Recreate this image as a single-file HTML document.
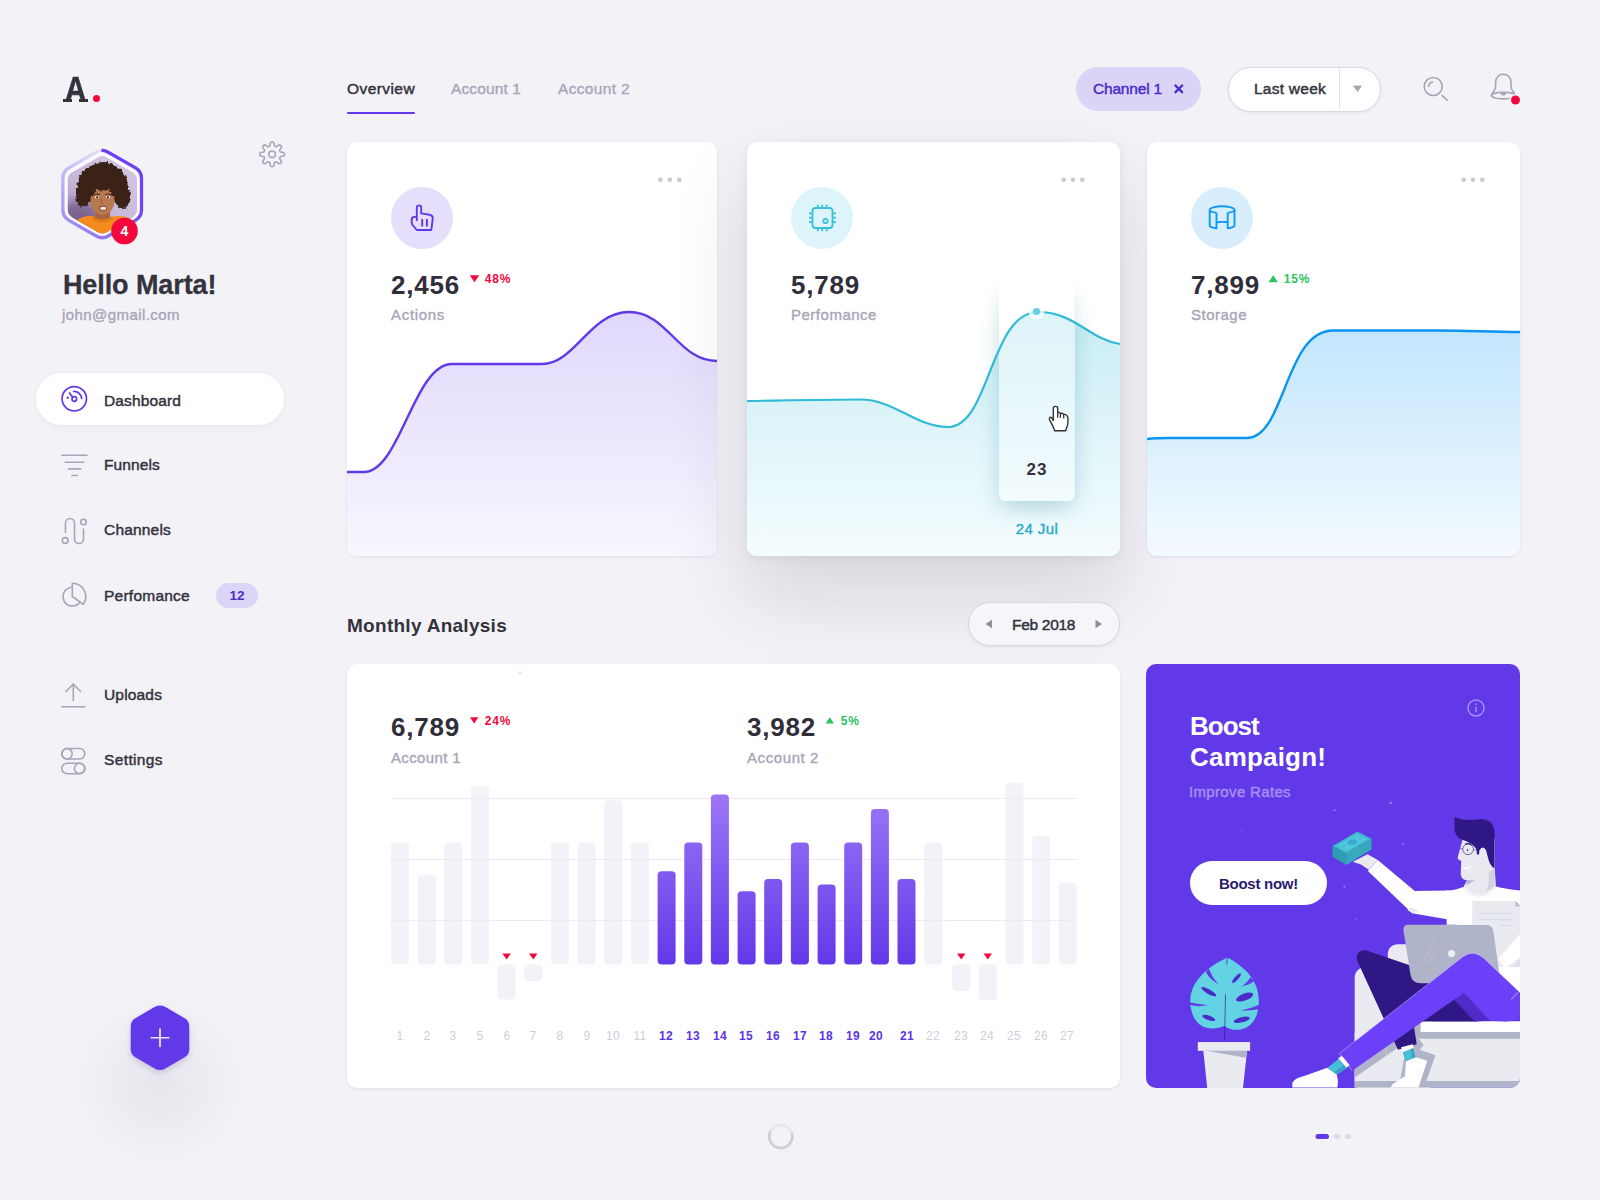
<!DOCTYPE html>
<html lang="en">
<head>
<meta charset="utf-8">
<title>Dashboard</title>
<style>
*{box-sizing:border-box;margin:0;padding:0}
html,body{width:1600px;height:1200px;overflow:hidden}
body{background:#f3f2f7;font-family:"Liberation Sans",sans-serif;color:#2f2e3a;position:relative}
.a{position:absolute}
.t{position:absolute;white-space:nowrap;line-height:20px;height:20px;font-size:16px;letter-spacing:0;-webkit-text-stroke:.45px currentColor}
.dk{color:#33323d}
.gr{color:#a7a5b7;-webkit-text-stroke:.35px #a7a5b7}
.b{font-weight:700;-webkit-text-stroke:0}
.num{position:absolute;white-space:nowrap;font-weight:700;font-size:26px;line-height:30px;height:30px;letter-spacing:.8px;color:#2f2e3a}
.pct{position:absolute;white-space:nowrap;font-weight:700;font-size:12px;line-height:14px;height:14px;letter-spacing:.85px;margin-left:.7px}
.red{color:#f4083b}
.grn{color:#2dc25f}
.card{position:absolute;background:#fff;border-radius:10px;box-shadow:0 1px 3px rgba(60,50,110,.10);overflow:hidden}
.ic{position:absolute;width:62px;height:62px;border-radius:50%}
.dots{position:absolute;width:24px;height:6px}
.dots i{position:absolute;top:0;width:5px;height:5px;border-radius:50%;background:#c9c8d2}
svg{position:absolute;overflow:visible}
.day{position:absolute;top:364px;width:30px;margin-left:-15px;text-align:center;font-size:12px;line-height:16px;color:#cfced9;letter-spacing:.3px}
.day.on{color:#5a35e0;font-weight:700}
</style>
</head>
<body>

<!-- ============ SIDEBAR ============ -->
<div id="sidebar">
<div class="a" id="logo" style="left:65px;top:69px;font-weight:700;font-size:35px;line-height:40px;color:#33323d;transform:scaleX(.84);transform-origin:0 0;-webkit-text-stroke:.7px #33323d">A</div>
<div class="a" style="left:63px;top:99px;width:9px;height:3px;background:#33323d"></div>
<div class="a" style="left:79px;top:99px;width:9px;height:3px;background:#33323d"></div>
<div class="a" style="left:92.800px;top:95px;width:7.200px;height:7.200px;border-radius:50%;background:#f4083b"></div>

<div class="a" style="left:0;top:0;width:320px;height:300px;background:conic-gradient(from 0deg at 102.200px 194.100px,#6a3df5 0deg,#6f45f4 110deg,#8d72f3 170deg,#a792f5 240deg,#c9bff6 310deg,#e6e2f8 358deg,#6a3df5 360deg);clip-path:path('M95.45,150.70 A13.5,13.5 0 0 1 108.95,150.70 L136.41,166.55 A13.5,13.5 0 0 1 143.16,178.24 L143.16,209.96 A13.5,13.5 0 0 1 136.41,221.65 L108.95,237.50 A13.5,13.5 0 0 1 95.45,237.50 L67.99,221.65 A13.5,13.5 0 0 1 61.24,209.96 L61.24,178.24 A13.5,13.5 0 0 1 67.99,166.55 Z')"></div>
<svg id="avatar" style="left:0;top:0" width="320" height="300" viewBox="0 0 320 300">
<defs>
<clipPath id="cpa"><path d="M97.90,157.40 A9,9 0 0 1 106.90,157.40 L132.54,172.20 A9,9 0 0 1 137.04,180.00 L137.04,209.60 A9,9 0 0 1 132.54,217.40 L106.90,232.20 A9,9 0 0 1 97.90,232.20 L72.26,217.40 A9,9 0 0 1 67.76,209.60 L67.76,180.00 A9,9 0 0 1 72.26,172.20 Z"/></clipPath>
<linearGradient id="gph" x1="135" y1="160" x2="70" y2="225" gradientUnits="userSpaceOnUse"><stop offset="0" stop-color="#d3c8e2"/><stop offset=".6" stop-color="#c6b8d9"/><stop offset="1" stop-color="#b09cc6"/></linearGradient>
<filter id="fh" x="-20%" y="-20%" width="140%" height="140%"><feTurbulence type="fractalNoise" baseFrequency=".35" numOctaves="2" seed="4" result="n"/><feDisplacementMap in="SourceGraphic" in2="n" scale="5" xChannelSelector="R" yChannelSelector="G"/><feGaussianBlur stdDeviation=".35"/></filter><filter id="fsoft" x="-50%" y="-50%" width="200%" height="200%"><feGaussianBlur stdDeviation="6"/></filter>
</defs>
<path d="M96.95,153.63 A10.5,10.5 0 0 1 107.45,153.63 L134.62,169.32 A10.5,10.5 0 0 1 139.87,178.41 L139.87,209.79 A10.5,10.5 0 0 1 134.62,218.88 L107.45,234.57 A10.5,10.5 0 0 1 96.95,234.57 L69.78,218.88 A10.5,10.5 0 0 1 64.53,209.79 L64.53,178.41 A10.5,10.5 0 0 1 69.78,169.32 Z" fill="#fbfaff"/>
<g clip-path="url(#cpa)">
<rect x="60" y="150" width="90" height="90" fill="url(#gph)"/>
<ellipse cx="80" cy="216" rx="22" ry="16" fill="#4a2c5e" opacity=".55" filter="url(#fsoft)"/>
<g filter="url(#fh)" fill="#3a2218">
<ellipse cx="102.500" cy="184" rx="25" ry="20.500"/>
<ellipse cx="83" cy="195" rx="7.500" ry="12"/>
<ellipse cx="122.500" cy="196" rx="7.500" ry="13"/>
<ellipse cx="104" cy="166" rx="10" ry="4"/>
</g>
<path d="M95,210 L95,219 Q102,224 110,219 L110,210Z" fill="#a5653f"/>
<path d="M70,226 Q82,214 93,216 Q102,223 112,216.500 Q125,214 140,223 L140,242 L64,242Z" fill="#f58a1e"/>
<path d="M93,216 Q102,223 112,216.500 L113,219 Q102,226 92,218.500Z" fill="#e07a14"/>
<ellipse cx="102.500" cy="200.500" rx="12" ry="14.500" fill="#b87850"/>
<g filter="url(#fh)" fill="#3a2218"><ellipse cx="101" cy="184.500" rx="14" ry="6"/><ellipse cx="91" cy="190" rx="4" ry="6"/><ellipse cx="114" cy="190" rx="4" ry="6"/></g>
<ellipse cx="97" cy="197.300" rx="2.300" ry="1.300" fill="#f1e6e0"/><ellipse cx="108" cy="197.300" rx="2.300" ry="1.300" fill="#f1e6e0"/>
<circle cx="97.200" cy="197.300" r="1.100" fill="#2a1a14"/><circle cx="107.800" cy="197.300" r="1.100" fill="#2a1a14"/>
<path d="M94,194.800 q3,-1.600 5.800,-.3 M105.200,194.500 q3,-1.300 5.800,.3" stroke="#3a2218" stroke-width="1" fill="none"/>
<path d="M101.200,199 q-1.200,4 1.600,4.800" stroke="#8f5734" stroke-width=".9" fill="none"/>
<ellipse cx="103" cy="208.300" rx="4" ry="2.500" fill="#8a4a38"/>
<ellipse cx="103.200" cy="208.300" rx="3" ry="1.500" fill="#f4ece8"/>
</g>
<circle cx="124.500" cy="231" r="13.300" fill="#f4083b"/>
<path d="M272.10,142.00 L272.58,142.03 L273.06,142.14 L273.51,142.42 L273.88,143.05 L274.12,144.15 L274.27,145.25 L274.47,145.89 L274.73,146.21 L275.01,146.40 L275.31,146.54 L275.63,146.65 L275.96,146.72 L276.37,146.68 L276.96,146.36 L277.85,145.69 L278.80,145.08 L279.51,144.90 L280.02,145.03 L280.44,145.28 L280.80,145.60 L281.12,145.96 L281.37,146.38 L281.50,146.89 L281.32,147.60 L280.71,148.55 L280.04,149.44 L279.72,150.03 L279.68,150.44 L279.75,150.77 L279.86,151.09 L280.00,151.39 L280.19,151.67 L280.51,151.93 L281.15,152.13 L282.25,152.28 L283.35,152.52 L283.98,152.89 L284.26,153.34 L284.37,153.82 L284.40,154.30 L284.37,154.78 L284.26,155.26 L283.98,155.71 L283.35,156.08 L282.25,156.32 L281.15,156.47 L280.51,156.67 L280.19,156.93 L280.00,157.21 L279.86,157.51 L279.75,157.83 L279.68,158.16 L279.72,158.57 L280.04,159.16 L280.71,160.05 L281.32,161.00 L281.50,161.71 L281.37,162.22 L281.12,162.64 L280.80,163.00 L280.44,163.32 L280.02,163.57 L279.51,163.70 L278.80,163.52 L277.85,162.91 L276.96,162.24 L276.37,161.92 L275.96,161.88 L275.63,161.95 L275.31,162.06 L275.01,162.20 L274.73,162.39 L274.47,162.71 L274.27,163.35 L274.12,164.45 L273.88,165.55 L273.51,166.18 L273.06,166.46 L272.58,166.57 L272.10,166.60 L271.62,166.57 L271.14,166.46 L270.69,166.18 L270.32,165.55 L270.08,164.45 L269.93,163.35 L269.73,162.71 L269.47,162.39 L269.19,162.20 L268.89,162.06 L268.57,161.95 L268.24,161.88 L267.83,161.92 L267.24,162.24 L266.35,162.91 L265.40,163.52 L264.69,163.70 L264.18,163.57 L263.76,163.32 L263.40,163.00 L263.08,162.64 L262.83,162.22 L262.70,161.71 L262.88,161.00 L263.49,160.05 L264.16,159.16 L264.48,158.57 L264.52,158.16 L264.45,157.83 L264.34,157.51 L264.20,157.21 L264.01,156.93 L263.69,156.67 L263.05,156.47 L261.95,156.32 L260.85,156.08 L260.22,155.71 L259.94,155.26 L259.83,154.78 L259.80,154.30 L259.83,153.82 L259.94,153.34 L260.22,152.89 L260.85,152.52 L261.95,152.28 L263.05,152.13 L263.69,151.93 L264.01,151.67 L264.20,151.39 L264.34,151.09 L264.45,150.77 L264.52,150.44 L264.48,150.03 L264.16,149.44 L263.49,148.55 L262.88,147.60 L262.70,146.89 L262.83,146.38 L263.08,145.96 L263.40,145.60 L263.76,145.28 L264.18,145.03 L264.69,144.90 L265.40,145.08 L266.35,145.69 L267.24,146.36 L267.83,146.68 L268.24,146.72 L268.57,146.65 L268.89,146.54 L269.19,146.40 L269.47,146.21 L269.73,145.89 L269.93,145.25 L270.08,144.15 L270.32,143.05 L270.69,142.42 L271.14,142.14 L271.62,142.03Z" fill="none" stroke="#a7a5b6" stroke-width="1.600" stroke-linejoin="round"/>
<circle cx="272.100" cy="154.300" r="3.300" fill="none" stroke="#a7a5b6" stroke-width="1.600"/>
</svg>
<div class="a b" style="left:114.500px;top:222px;width:20px;text-align:center;font-weight:700;font-size:14px;line-height:18px;color:#fff">4</div>
<div class="t b dk" style="left:62.900px;top:269px;font-size:27px;line-height:32px;height:32px;letter-spacing:-.08px;-webkit-text-stroke:.3px #33323d">Hello Marta!</div>
<div class="t gr" style="left:62px;top:305px;font-size:15px;letter-spacing:0.43px">john@gmail.com</div>

<div class="a" style="left:36px;top:373px;width:248px;height:52px;border-radius:26px;background:#fff;box-shadow:0 2px 6px rgba(60,50,110,.06)"></div>
<svg id="sideicons" style="left:0;top:0" width="320" height="1200" viewBox="0 0 320 1200">
<g fill="none" stroke="#6239e8" stroke-width="1.700" stroke-linecap="round">
<circle cx="74.300" cy="398.800" r="12.200"/>
<circle cx="74.300" cy="399" r="2.300"/>
<path d="M69.500,393 L72.700,397.300 M73.500,391.500 A7.600,7.600 0 0 1 81.700,398.300"/>
<circle cx="67.600" cy="397.800" r=".7" fill="#6239e8" stroke-width="1"/>
</g>
<g fill="none" stroke="#a7a5b6" stroke-width="1.600" stroke-linecap="round" stroke-linejoin="round">
<path d="M61.800,455.300 H87 M65.300,462.200 H83.800 M68.500,468.900 H80.600 M71.800,475.500 H77.300"/>
<path d="M65.500,532.500 V523 a4.500,4.500 0 0 1 9,0 V539 a4.500,4.500 0 0 0 9,0 V529"/>
<circle cx="83.500" cy="522" r="2.800"/><circle cx="65.200" cy="540.500" r="2.900"/>
<path d="M72,587.200 A9.400,9.400 0 1 0 80,602.200"/>
<path d="M72.300,583.200 V596.500 L83.300,604.300 A13.400,13.400 0 0 0 72.300,583.200Z"/>
<path d="M73.300,700.500 V684 M66,691.500 L73.300,684 L80.600,691.500 M61.700,706.700 H85"/>
<rect x="61.800" y="748.500" width="23" height="10.500" rx="5.250"/><circle cx="67" cy="753.750" r="5.200"/>
<rect x="61.800" y="763.200" width="23" height="10.500" rx="5.250"/><circle cx="79.600" cy="768.450" r="5.200"/>
</g>
</svg>
<div class="t dk" style="left:104px;top:391px;font-size:15.5px;letter-spacing:0.13px">Dashboard</div>
<div class="t dk" style="left:104px;top:455px;font-size:15.5px;letter-spacing:0.12px">Funnels</div>
<div class="t dk" style="left:104px;top:520px;font-size:15.5px;letter-spacing:0.19px">Channels</div>
<div class="t dk" style="left:104px;top:586px;font-size:15.5px;letter-spacing:0.24px">Perfomance</div>
<div class="a" style="left:216px;top:583px;width:42px;height:25px;border-radius:13px;background:#dcd5f8"></div>
<div class="t b" style="left:229.500px;top:586px;font-size:13.500px;color:#4a2dc4;letter-spacing:0">12</div>
<div class="t dk" style="left:104px;top:685px;font-size:15.5px;letter-spacing:0.17px">Uploads</div>
<div class="t dk" style="left:104px;top:750px;font-size:15.5px;letter-spacing:0.37px">Settings</div>
<div class="a" style="left:72px;top:994px;width:176px;height:176px;border-radius:50%;background:radial-gradient(closest-side,rgba(60,55,85,.06),rgba(60,55,85,.035) 50%,rgba(60,55,85,0) 100%)"></div>
<svg id="hexbtn" style="left:100px;top:980px" width="120" height="120" viewBox="100 980 120 120">
<defs><filter id="fb" x="-30%" y="-30%" width="160%" height="160%"><feGaussianBlur stdDeviation="3"/></filter></defs>
<path d="M155.00,1006.84 A10,10 0 0 1 165.00,1006.84 L184.27,1017.96 A10,10 0 0 1 189.27,1026.62 L189.27,1048.88 A10,10 0 0 1 184.27,1057.54 L165.00,1068.66 A10,10 0 0 1 155.00,1068.66 L135.73,1057.54 A10,10 0 0 1 130.73,1048.88 L130.73,1026.62 A10,10 0 0 1 135.73,1017.96 Z" fill="#3a2a80" opacity=".18" transform="translate(0,3)" filter="url(#fb)"/>
<path d="M155.00,1006.84 A10,10 0 0 1 165.00,1006.84 L184.27,1017.96 A10,10 0 0 1 189.27,1026.62 L189.27,1048.88 A10,10 0 0 1 184.27,1057.54 L165.00,1068.66 A10,10 0 0 1 155.00,1068.66 L135.73,1057.54 A10,10 0 0 1 130.73,1048.88 L130.73,1026.62 A10,10 0 0 1 135.73,1017.96 Z" fill="#6239e8"/>
<path d="M151.300,1037.750 H168.700 M160,1029.100 V1046.400" stroke="#efeaff" stroke-width="1.700" stroke-linecap="round"/>
</svg>
</div>

<!-- ============ TOP BAR ============ -->
<div id="topbar">
<div class="t dk" style="left:347px;top:79px;font-size:15.5px;letter-spacing:0.43px">Overview</div>
<div class="a" style="left:347px;top:112px;width:68px;height:2px;background:#6239e8;border-radius:1px"></div>
<div class="t gr" style="left:451px;top:79px;font-size:15.5px;letter-spacing:0.12px">Account 1</div>
<div class="t gr" style="left:558px;top:79px;font-size:15.5px;letter-spacing:0.34px">Account 2</div>

<div class="a" style="left:1075.500px;top:66.500px;width:125.500px;height:44.500px;border-radius:22.500px;background:#dbd4f7"></div>
<div class="t" style="left:1093px;top:79px;color:#4a2dc4;font-size:15.5px;letter-spacing:-0.19px">Channel 1</div>
<div class="a" style="left:1227.500px;top:66.500px;width:153px;height:45px;border-radius:22.500px;background:#fff;border:1px solid #d9d8e0;box-shadow:0 1px 3px rgba(60,50,110,.08)"></div>
<div class="a" style="left:1339px;top:68px;width:1px;height:42px;background:#e4e3ea"></div>
<div class="t dk" style="left:1254px;top:79px;font-size:15.5px;letter-spacing:0.25px">Last week</div>
<svg id="topicons" style="left:1060px;top:50px" width="500" height="80" viewBox="1060 50 500 80">
<path d="M1174.800,84.900 l8,8 M1182.800,84.900 l-8,8" stroke="#4a2dc4" stroke-width="2.200" fill="none"/>
<path d="M1353.800,85.600 h7.400 q.8,0 .4,.7 l-3.700,5.300 q-.4,.6 -.8,0 l-3.700,-5.300 q-.4,-.7 .4,-.7z" fill="#a7a5b6"/>
<g fill="none" stroke="#a7a5b6" stroke-width="1.600" stroke-linecap="round">
<circle cx="1433.200" cy="86.500" r="9"/>
<path d="M1442,95.300 L1447.200,100.200 M1428.600,86.300 A5,5 0 0 1 1432.700,82"/>
<path d="M1491.500,95.500 C1492,92 1495.600,90.500 1495.600,86.500 V82 a7.700,7.700 0 0 1 15.400,0 V86.500 C1511,90.500 1514.600,92 1515,95.500"/>
<ellipse cx="1503.300" cy="95.600" rx="11.900" ry="3.300"/>
</g>
<path d="M1500.300,92.500 a3,3 0 0 0 6,0z" fill="#a7a5b6"/>
<circle cx="1515.500" cy="100" r="6" fill="#f3f2f7"/>
<circle cx="1515.500" cy="100" r="4.500" fill="#f4083b"/>
</svg>

</div>

<!-- ============ STAT CARDS ============ -->
<div class="card" id="card1" style="left:347px;top:142px;width:370px;height:414px">
<svg style="left:-347px;top:-142px" width="1600" height="1200" viewBox="0 0 1600 1200">
<defs><linearGradient id="g1" x1="0" y1="312" x2="0" y2="556" gradientUnits="userSpaceOnUse"><stop offset="0" stop-color="#e0d8fb"/><stop offset="1" stop-color="#f8f6fe"/></linearGradient></defs>
<path d="M347,472 L364,472 C400,472 414,364 452,364 L542,364 C575,364 590,312 629,312 C668,312 678,361 717,361 L717,560 L347,560Z" fill="url(#g1)"/>
<path d="M347,472 L364,472 C400,472 414,364 452,364 L542,364 C575,364 590,312 629,312 C668,312 678,361 717,361" fill="none" stroke="#6239e8" stroke-width="2.4"/>
<circle cx="422" cy="218" r="31" fill="#e6dffc"/>
<g fill="none" stroke="#6239e8" stroke-width="1.9" stroke-linecap="round" stroke-linejoin="round">
<path d="M416.8,220.3 V207.6 a2.2,2.2 0 0 1 4.4,0 V213.4 L429.5,214.7 Q433.2,215.4 432.7,219 L431.3,230 H416.8 L412.6,225 Q411.6,223.6 411.7,221.5 V219.5 Q411.8,216.9 414.2,216.9 H416.6"/>
<path d="M422.2,219.7 V225.7 M426.9,219.7 V225.7"/>
</g>
<g fill="#c9c8d2"><circle cx="660.4" cy="179.8" r="2.3"/><circle cx="669.8" cy="179.8" r="2.3"/><circle cx="679.2" cy="179.8" r="2.3"/></g>
<path d="M469.8,275.2 h9.4 l-4.7,7z" fill="#f4083b"/>
</svg>
<div class="num" style="left:44px;top:128px">2,456</div>
<div class="pct red" style="left:137px;top:130px">48%</div>
<div class="t gr" style="left:44px;top:163px;font-size:15px;letter-spacing:0.69px">Actions</div>
</div>
<div class="card" id="card2" style="left:747px;top:142px;width:373px;height:414px;box-shadow:0 40px 80px rgba(40,40,60,.14),0 2px 8px rgba(40,40,60,.07)">
<svg style="left:-747px;top:-142px" width="1600" height="1200" viewBox="0 0 1600 1200">
<defs><linearGradient id="g2" x1="0" y1="312" x2="0" y2="556" gradientUnits="userSpaceOnUse"><stop offset="0" stop-color="#c9edf5"/><stop offset="1" stop-color="#f5fcfe"/></linearGradient>
<linearGradient id="g2c" x1="0" y1="280" x2="0" y2="500" gradientUnits="userSpaceOnUse"><stop offset="0" stop-color="#fff" stop-opacity="0"/><stop offset=".15" stop-color="#fff" stop-opacity=".3"/><stop offset="1" stop-color="#fff" stop-opacity=".3"/></linearGradient>
<linearGradient id="g2m" x1="0" y1="270" x2="0" y2="330" gradientUnits="userSpaceOnUse"><stop offset="0" stop-color="#000"/><stop offset="1" stop-color="#fff"/></linearGradient>
<mask id="m2" maskUnits="userSpaceOnUse" x="900" y="200" width="300" height="400"><rect x="900" y="200" width="300" height="400" fill="url(#g2m)"/></mask>
<clipPath id="cpc"><path d="M999,270 H1074.500 V494 a7,7 0 0 1 -7,7 H1006 a7,7 0 0 1 -7,-7Z"/></clipPath><filter id="f2" x="-60%" y="-20%" width="220%" height="150%"><feGaussianBlur stdDeviation="11"/></filter>
</defs>
<path d="M747,401 C780,400.5 830,399.5 860,399.5 C895,399.5 915,427 948,427 C990,427 990,312 1038,312 C1075,312 1090,340 1120,344 L1120,560 L747,560Z" fill="url(#g2)"/>
<g mask="url(#m2)">
<rect x="1001" y="285" width="72" height="222" rx="8" fill="#1f7f98" opacity=".3" filter="url(#f2)"/>
<g clip-path="url(#cpc)"><rect x="990" y="260" width="95" height="250" fill="#fff"/><path d="M747,401 C780,400.5 830,399.5 860,399.5 C895,399.5 915,427 948,427 C990,427 990,312 1038,312 C1075,312 1090,340 1120,344 L1120,560 L747,560Z" fill="url(#g2)"/><rect x="990" y="260" width="95" height="250" fill="#fff" opacity=".38"/></g>
</g>
<path d="M747,401 C780,400.5 830,399.5 860,399.5 C895,399.5 915,427 948,427 C990,427 990,312 1038,312 C1075,312 1090,340 1120,344" fill="none" stroke="#2fbad6" stroke-width="2.2"/>
<circle cx="1036.500" cy="311.500" r="8" fill="#fff" opacity=".75"/>
<circle cx="1036.500" cy="311.500" r="3.600" fill="#62cfe6"/>
<circle cx="822" cy="218" r="31" fill="#ddf5fa"/>
<g fill="none" stroke="#3bbfdc" stroke-width="1.8">
<rect x="812.500" y="208" width="20" height="20" rx="3"/>
<circle cx="825.500" cy="221" r="2.200"/>
<path d="M817.700,204.700 V208 M822.200,204.700 V208 M826.700,204.700 V208 M817.700,228 V231.300 M822.200,228 V231.300 M826.700,228 V231.300 M809,213.300 H812.500 M809,217.700 H812.500 M809,222.200 H812.500 M832.500,213.300 H836 M832.500,217.700 H836 M832.500,222.200 H836"/>
</g>
<g fill="#c9c8d2"><circle cx="1063.700" cy="179.800" r="2.300"/><circle cx="1073" cy="179.800" r="2.300"/><circle cx="1082.400" cy="179.800" r="2.300"/></g>
<g transform="translate(1049,406)">
<path d="M4.300,14.600 V2.200 Q4.300,.4 6.500,.4 Q8.700,.4 8.700,2.200 V6.600 Q10.300,5.800 11.400,7.400 Q13.100,6.900 14.750,8.500 Q17,8 18.200,10 Q18.900,11 18.900,12.500 V17.500 Q18.500,20 17.500,22 L16.600,24.700 H5.600 L5.300,23.600 Q3.500,19 .7,14.200 Q-.2,12.300 .9,11.400 Q2.100,10.700 3,12.300 L4.300,14.600Z" fill="#fff" stroke="#2e2e2e" stroke-width="1.350" stroke-linejoin="round"/>
<path d="M8.700,6.600 V11.700 M11.400,7.400 V11.700 M14.750,8.500 V12.600" stroke="#2e2e2e" stroke-width="1.250" fill="none"/>
</g>
</svg>
<div class="num" style="left:44px;top:128px">5,789</div>
<div class="t gr" style="left:44px;top:163px;font-size:15px;letter-spacing:0.51px">Perfomance</div>
<div class="t b dk" style="left:269px;top:318px;width:42px;text-align:center;font-size:17px;letter-spacing:1px">23</div>
<div class="t" style="left:259px;top:377px;width:62px;text-align:center;font-size:15px;color:#2aa9c9;-webkit-text-stroke:.4px #2aa9c9;letter-spacing:.45px">24 Jul</div>
</div>
<div class="card" id="card3" style="left:1147px;top:142px;width:373px;height:414px">
<svg style="left:-1147px;top:-142px" width="1600" height="1200" viewBox="0 0 1600 1200">
<defs><linearGradient id="g3" x1="0" y1="331" x2="0" y2="556" gradientUnits="userSpaceOnUse"><stop offset="0" stop-color="#c2e6fd"/><stop offset="1" stop-color="#f4fafe"/></linearGradient></defs>
<path d="M1147,439 C1155,438 1160,438 1170,438 L1247,438 C1285,438 1285,330.500 1333,330.500 L1440,330.500 C1470,330.500 1490,332 1520,332 L1520,560 L1147,560Z" fill="url(#g3)"/>
<path d="M1147,439 C1155,438 1160,438 1170,438 L1247,438 C1285,438 1285,330.500 1333,330.500 L1440,330.500 C1470,330.500 1490,332 1520,332" fill="none" stroke="#0d93f2" stroke-width="2.400"/>
<circle cx="1222" cy="218" r="31" fill="#d8eefd"/>
<g fill="none" stroke="#0d99f5" stroke-width="1.900" stroke-linejoin="round">
<path d="M1209.700,209.800 A12.400,3.500 0 0 1 1234.500,209.800 M1209.700,209.800 A12.400,3.500 0 0 0 1216.500,212.900 M1234.500,209.800 A12.400,3.500 0 0 1 1227.700,212.900"/>
<path d="M1209.700,210 V225.800 Q1211,227.500 1216.500,228.300 V212.800 M1234.500,210 V225.800 Q1233,227.500 1227.700,228.300 V212.800 M1216.500,222.200 Q1222,221.500 1227.700,222.200"/>
</g>
<g fill="#c9c8d2"><circle cx="1463.700" cy="179.800" r="2.300"/><circle cx="1473" cy="179.800" r="2.300"/><circle cx="1482.400" cy="179.800" r="2.300"/></g>
<path d="M1268.500,282.200 h9.400 l-4.700,-7z" fill="#2dc25f"/>
</svg>
<div class="num" style="left:44px;top:128px">7,899</div>
<div class="pct grn" style="left:136px;top:130px">15%</div>
<div class="t gr" style="left:44px;top:163px;font-size:15px;letter-spacing:0.49px">Storage</div>
</div>

<!-- ============ MONTHLY ============ -->
<div class="t b dk" style="left:347px;top:614px;font-size:19px;line-height:24px;height:24px;letter-spacing:.28px">Monthly Analysis</div>
<div class="a" style="left:968px;top:602px;width:152px;height:44px;border-radius:22px;background:#f6f5f9;border:1px solid #d9d8e0;box-shadow:0 1px 3px rgba(60,50,110,.08)"></div>
<div class="t dk" style="left:1012px;top:615px;letter-spacing:-0.3px;font-size:15.5px">Feb 2018</div>
<svg style="left:980px;top:614px" width="130" height="20" viewBox="980 614 130 20"><path d="M992,619.800 v8.400 l-6.500,-4.200z M1095.500,619.800 v8.400 l6.500,-4.200z" fill="#8f8da0"/></svg>
<div class="card" id="month" style="left:347px;top:664px;width:773px;height:424px">
<svg style="left:-347px;top:-664px" width="1600" height="1200" viewBox="0 0 1600 1200">
<defs><linearGradient id="gb" x1="0" y1="795" x2="0" y2="965" gradientUnits="userSpaceOnUse"><stop offset="0" stop-color="#9c75f6"/><stop offset="1" stop-color="#6239e8"/></linearGradient></defs>
<g fill="#f3f2f8"><rect x="391.0" y="842.2" width="18" height="122.3" rx="4"/><rect x="417.7" y="875.3" width="18" height="89.2" rx="4"/><rect x="444.3" y="842.2" width="18" height="122.3" rx="4"/><rect x="471.0" y="786" width="18" height="178.5" rx="4"/><rect x="497.6" y="964.5" width="18" height="34.9" rx="4"/><rect x="524.3" y="964.5" width="18" height="16.5" rx="4"/><rect x="551.0" y="842.7" width="18" height="121.8" rx="4"/><rect x="577.6" y="842.7" width="18" height="121.8" rx="4"/><rect x="604.3" y="800.2" width="18" height="164.3" rx="4"/><rect x="630.9" y="842.7" width="18" height="121.8" rx="4"/><rect x="924.3" y="842.4" width="18" height="122.1" rx="4"/><rect x="952.2" y="964.5" width="18" height="26.4" rx="4"/><rect x="978.8" y="964.5" width="18" height="35.7" rx="4"/><rect x="1005.5" y="782.7" width="18" height="181.8" rx="4"/><rect x="1032.1" y="835.9" width="18" height="128.6" rx="4"/><rect x="1058.8" y="882.4" width="18" height="82.1" rx="4"/></g>
<path d="M391,798.500 H1077 M391,859.500 H1077 M391,920.500 H1077" stroke="#ecebf1" stroke-width="1" fill="none"/>
<g fill="url(#gb)"><rect x="657.6" y="871.3" width="18" height="93.2" rx="4"/><rect x="684.3" y="842.4" width="18" height="122.1" rx="4"/><rect x="710.9" y="794.6" width="18" height="169.9" rx="4"/><rect x="737.6" y="891.2" width="18" height="73.3" rx="4"/><rect x="764.2" y="879" width="18" height="85.5" rx="4"/><rect x="790.9" y="842.4" width="18" height="122.1" rx="4"/><rect x="817.6" y="884.6" width="18" height="79.9" rx="4"/><rect x="844.2" y="842.4" width="18" height="122.1" rx="4"/><rect x="870.9" y="809" width="18" height="155.5" rx="4"/><rect x="897.5" y="879" width="18" height="85.5" rx="4"/></g>
<g fill="#f4083b"><path d="M502.4,953.6 h8.400 l-4.200,6z"/><path d="M529.1,953.6 h8.400 l-4.200,6z"/><path d="M957.0,953.6 h8.400 l-4.200,6z"/><path d="M983.6,953.6 h8.400 l-4.200,6z"/></g>
<circle cx="520" cy="673" r="2" fill="#eceaf3"/>
<path d="M470,717.300 h8.400 l-4.200,6.200z" fill="#f4083b"/>
<path d="M825.600,723.500 h8.400 l-4.200,-6.200z" fill="#2dc25f"/>
</svg>
<div class="num" style="left:44px;top:48px">6,789</div>
<div class="pct red" style="left:137px;top:50px">24%</div>
<div class="t gr" style="left:44px;top:84px;font-size:15px;letter-spacing:0.36px">Account 1</div>
<div class="num" style="left:400px;top:48px">3,982</div>
<div class="pct grn" style="left:493px;top:50px">5%</div>
<div class="t gr" style="left:400px;top:84px;font-size:15px;letter-spacing:0.59px">Account 2</div>
<div class="day" style="left:53px">1</div><div class="day" style="left:80px">2</div><div class="day" style="left:106px">3</div><div class="day" style="left:133px">5</div><div class="day" style="left:160px">6</div><div class="day" style="left:186px">7</div><div class="day" style="left:213px">8</div><div class="day" style="left:240px">9</div><div class="day" style="left:266px">10</div><div class="day" style="left:293px">11</div><div class="day on" style="left:319px">12</div><div class="day on" style="left:346px">13</div><div class="day on" style="left:373px">14</div><div class="day on" style="left:399px">15</div><div class="day on" style="left:426px">16</div><div class="day on" style="left:453px">17</div><div class="day on" style="left:479px">18</div><div class="day on" style="left:506px">19</div><div class="day on" style="left:529px">20</div><div class="day on" style="left:560px">21</div><div class="day" style="left:586px">22</div><div class="day" style="left:614px">23</div><div class="day" style="left:640px">24</div><div class="day" style="left:667px">25</div><div class="day" style="left:694px">26</div><div class="day" style="left:720px">27</div>
</div>

<!-- ============ BOOST ============ -->
<div class="card" id="boost" style="left:1146px;top:664px;width:374px;height:424px;background:#6239e8;box-shadow:none">
<svg style="left:-1146px;top:-664px" width="1600" height="1200" viewBox="0 0 1600 1200">
<g fill="#9a82f4">
<circle cx="1390.800" cy="802.900" r="1.200"/><circle cx="1334.500" cy="810.300" r="1"/><circle cx="1241.800" cy="830.200" r=".8" opacity=".6"/><circle cx="1402.900" cy="844" r="1"/><circle cx="1344.400" cy="886.500" r="1"/><circle cx="1356.500" cy="918.800" r=".9" opacity=".7"/><circle cx="1373" cy="832" r=".7" opacity=".5"/>
</g>
<!-- plant -->
<g transform="translate(1170,940) scale(.12917)">
<path d="M445,135 Q300,200 220,300 Q140,400 160,520 Q190,690 340,685 Q390,680 420,665 Q470,700 540,695 Q680,670 688,480 Q690,350 600,250 Q530,180 445,135Z" fill="#63d2e3"/>
<g fill="#6239e8"><path d="M278,248 L302,222 Q330,300 378,342 Q310,310 278,248Z"/><path d="M150,482 Q220,500 294,504 Q220,520 156,504Z"/><path d="M622,288 L652,318 Q610,350 552,360 Q600,330 622,288Z"/><path d="M692,502 L686,536 Q620,548 546,546 Q630,530 692,502Z"/></g>
<g fill="#4a2bc9"><ellipse cx="515" cy="295" rx="48" ry="14" transform="rotate(-48 515 295)"/><ellipse cx="300" cy="400" rx="66" ry="18" transform="rotate(30 300 400)"/><ellipse cx="578" cy="442" rx="70" ry="27" transform="rotate(-20 578 442)"/><ellipse cx="300" cy="603" rx="52" ry="18" transform="rotate(20 300 603)"/><ellipse cx="555" cy="618" rx="64" ry="20" transform="rotate(-14 555 618)"/></g>
<path d="M430,420 L422,775 M446,135 L438,190" stroke="#2f1885" stroke-width="5" fill="none"/>
<path d="M258,858 H597 L565,1145 H288Z" fill="#e9ebf1"/><path d="M280,858 H597 L585,912Z" fill="#aeb3c6"/><rect x="215" y="790" width="405" height="68" fill="#e9ebf1"/>
</g>
<!-- lower body / chair -->
<g transform="translate(1280,920) scale(.15625)">
<rect x="478" y="300" width="500" height="800" rx="70" fill="#e9ebf1"/>
<rect x="690" y="155" width="260" height="300" rx="60" fill="#e9ebf1"/>
<path d="M1070,-40 H1536 V480 L1380,330 Z" fill="#fff"/>
<path d="M1230,-40 H1536 V300 H1230Z" fill="#e9ebf1"/>
<path d="M1536,90 L1395,250 L1440,310 L1536,240Z" fill="#fff"/>
<path d="M1536,250 L1480,300 L1536,300Z" fill="#dfe2ea"/>
<path d="M1280,2 H1490 M1405,35 H1490" stroke="#d3d6e0" stroke-width="5"/>
<path d="M478,720 H1536 V1072 H478Z" fill="#e9ebf1"/>
<path d="M880,648 H1536 V716 H880Z" fill="#fff"/>
<path d="M860,716 H1536 V760 H860Z" fill="#b0b4c8"/>
<path d="M478,1030 H1536 V1072 H478Z" fill="#b0b4c8"/>
<path d="M478,950 L900,655 L900,716 L478,1008Z" fill="#b0b4c8"/><path d="M870,740 L920,798 L895,830 L995,865 L935,1035 L880,1072 L760,1072 L800,850Z" fill="#b0b4c8"/>
<path d="M680,700 V1030" stroke="#dfe2ea" stroke-width="3"/>
<path d="M545,192 Q475,200 495,262 L755,830 L875,795 L852,650 L1260,650 L1110,470 L830,290Z" fill="#2f1885"/>
<path d="M1115,510 L1180,465 L1345,645 L1245,650Z" fill="#4f2bc7"/>
<path d="M775,815 L850,795 L856,820 L785,846Z" fill="#fff"/>
<path d="M785,846 L852,820 L866,880 L806,906Z" fill="#45c0d4"/><path d="M835,827 L852,820 L866,880 L850,887Z" fill="#3a9ec9"/>
<path d="M708,1072 L722,1050 L800,1000 L806,906 L870,878 L942,900 L886,1072Z" fill="#fff"/>
<path d="M790,65 Q788,30 825,30 L1320,30 Q1360,30 1366,72 L1412,402 L900,405 Q845,405 835,350Z" fill="#b0b4c8"/>
<circle cx="1098" cy="215" r="23" fill="#eceef3"/>
<path d="M915,285 L990,125 M950,280 L1000,185" stroke="#c9ccda" stroke-width="3"/>
<path d="M380,855 L1170,235 Q1235,185 1305,245 L1536,465 L1536,600 Q1520,650 1440,650 L1345,645 L1178,465 L462,965Z" fill="#6c40f8"/>
<path d="M380,855 L1170,235 Q1235,185 1305,245 L1440,375" stroke="#d9d0ff" stroke-width="3" fill="none"/>
<path d="M380,855 L462,965" stroke="#d9d0ff" stroke-width="3" fill="none"/>
<path d="M1480,510 L1522,462" stroke="#e4deff" stroke-width="4"/>
<path d="M372,884 L396,868 L446,930 L424,946Z" fill="#fff"/>
<path d="M305,945 L374,890 L426,948 L362,990Z" fill="#45c0d4"/><path d="M345,975 L410,930 L426,948 L362,990Z" fill="#3a9ec9"/>
<path d="M78,1072 L80,1040 Q100,1010 150,1000 L302,945 L364,990 Q376,1030 368,1072Z" fill="#fff"/>
<path d="M130,1010 L150,1055 M345,1010 Q335,1040 345,1072" stroke="#e6e8ee" stroke-width="3" fill="none"/>
</g>
<!-- upper body -->
<g transform="translate(1320,800) scale(.13125)">
<path d="M965,690 Q1040,685 1090,662 L1340,660 Q1420,680 1530,690 V950 H965Z" fill="#fff"/>
<path d="M1095,660 Q1205,790 1340,655 L1330,500 L1180,612 L1120,612Z" fill="#e8eaf0"/>
<path d="M1330,500 V658 L1262,702 Q1292,640 1284,545Z" fill="#d0d3de"/>
<path d="M1120,612 H1178 L1116,652Z" fill="#b6b9cb"/>
<path d="M1085,668 Q1205,800 1345,662" stroke="#e4e6ed" stroke-width="7" fill="none"/>
<path d="M1088,298 L1048,440 Q1052,458 1076,462 L1072,565 Q1078,612 1130,612 L1200,612 L1332,520 L1332,298Z" fill="#e8eaf0"/>
<path d="M1025,130 Q1100,165 1230,145 Q1330,150 1330,260 L1330,522 Q1292,500 1280,440 L1266,385 Q1240,338 1214,385 L1212,416 L1196,416 L1190,372 Q1160,330 1090,305 Q1018,280 1025,200Z" fill="#2f1885"/>
<circle cx="1128" cy="375" r="41" fill="none" stroke="#2f1885" stroke-width="5"/>
<path d="M1170,378 L1202,381 M1086,372 L1066,370" stroke="#2f1885" stroke-width="4"/>
<path d="M1105,338 Q1130,325 1155,345" stroke="#2f1885" stroke-width="9" fill="none"/>
<circle cx="1124" cy="382" r="6" fill="#2f1885"/>
<path d="M1088,515 Q1120,532 1146,503" stroke="#fff" stroke-width="9" fill="none" stroke-linecap="round"/>
<path d="M1160,770 H1490 L1530,808 V950 H1160Z" fill="#e8eaf0"/>
<path d="M1490,770 V810 H1530Z" fill="#b6b9cb"/>
<path d="M1218,862 H1465 M1218,912 H1465 M1370,955 H1465" stroke="#d3d6e0" stroke-width="6"/>
<path d="M980,690 L722,694 L440,458 L365,540 L702,862 L968,908Z" fill="#fff"/>
<path d="M470,486 L398,566" stroke="#e4e6ed" stroke-width="5"/>
<path d="M665,838 Q700,800 750,850 L705,862Z" fill="#e8eaf0"/>
<path d="M440,458 L362,414 L250,470 L312,492 L372,532Z" fill="#e8eaf0"/>
<path d="M95,350 L285,240 L392,295 L200,412Z" fill="#3db8cc"/>
<path d="M95,350 L200,412 V496 L95,432Z" fill="#2d9fb2"/>
<path d="M200,412 L392,295 V376 L200,496Z" fill="#36acbd"/>
<path d="M125,350 L283,258 L362,298 L202,392Z" fill="#4ec8db"/>
<ellipse cx="245" cy="321" rx="38" ry="21" fill="#3fa8d0" transform="rotate(-8 245 321)"/>
<circle cx="183" cy="352" r="7" fill="#3fa8d0"/><circle cx="305" cy="290" r="7" fill="#3fa8d0"/>
<path d="M200,440 L392,322 M200,466 L392,348" stroke="#2d9fb2" stroke-width="4"/>
</g>
<circle cx="1476" cy="708" r="8" fill="none" stroke="#a690f6" stroke-width="1.400"/>
<path d="M1476,706.800 V712" stroke="#a690f6" stroke-width="1.500"/><circle cx="1476" cy="704.200" r=".9" fill="#a690f6"/>
</svg>
<div class="t b" style="left:44px;top:47px;font-size:26px;line-height:31px;height:31px;letter-spacing:-1px;color:#fff">Boost</div>
<div class="t b" style="left:44px;top:78px;font-size:26px;line-height:31px;height:31px;letter-spacing:.2px;color:#fff">Campaign!</div>
<div class="t" style="left:43px;top:118px;color:#a48ff5;font-size:15px;letter-spacing:0.34px">Improve Rates</div>
<div class="a" style="left:44px;top:197px;width:137px;height:44px;border-radius:22px;background:#fff"></div>
<div class="t b" style="left:44px;top:210px;width:137px;text-align:center;color:#2a1a6e;letter-spacing:-0.27px;font-size:15px">Boost now!</div>
</div>

<svg id="bottom" style="left:700px;top:1100px" width="700" height="80" viewBox="700 1100 700 80">
<circle cx="780.800" cy="1136.500" r="11.500" fill="none" stroke="#e7e6ee" stroke-width="2.600"/>
<path d="M770.600,1131.200 A11.500,11.500 0 0 0 780.800,1148 A11.500,11.500 0 0 0 791.700,1132.800" fill="none" stroke="#cfced8" stroke-width="2.600"/>
<rect x="1315.500" y="1134" width="13.500" height="5" rx="2.500" fill="#6239e8"/>
<rect x="1333.500" y="1134" width="6.500" height="5" rx="2.500" fill="#dddce4"/>
<rect x="1344.500" y="1134" width="6.500" height="5" rx="2.500" fill="#dddce4"/>
</svg>
</body>
</html>
